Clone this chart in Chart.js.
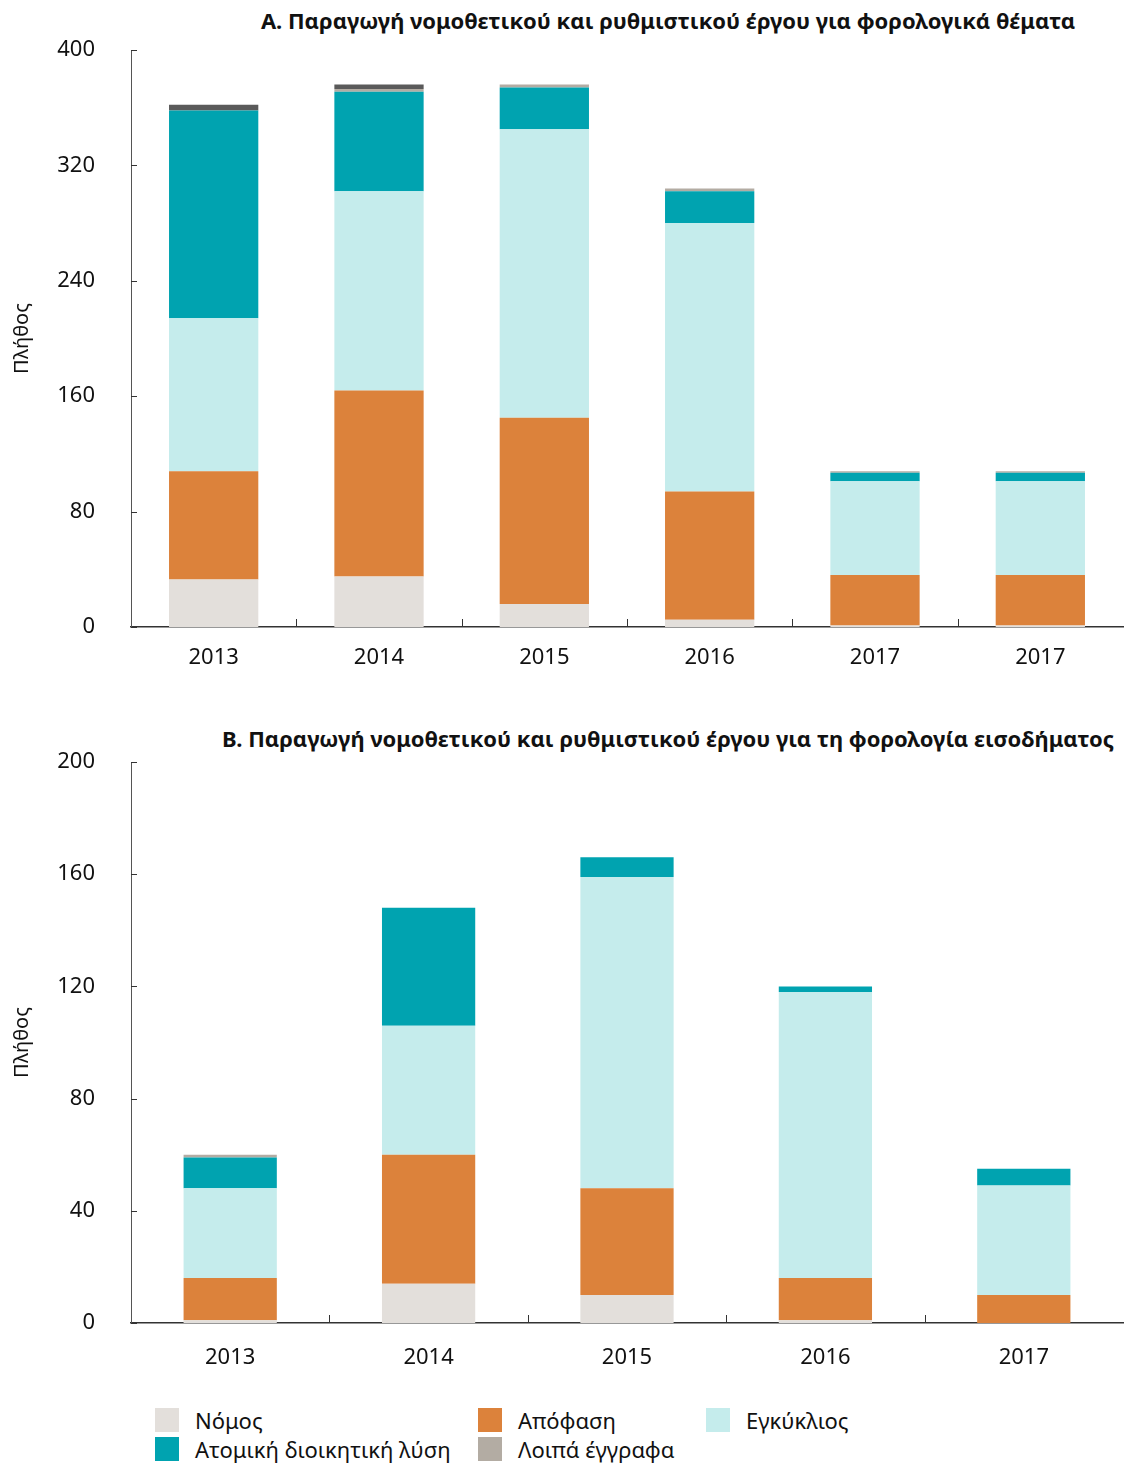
<!DOCTYPE html>
<html>
<head>
<meta charset="utf-8">
<script src="https://cdn.jsdelivr.net/npm/chart.js@4/dist/chart.umd.min.js"></script>
<style>
  body { margin: 0; background: #fff; font-family: "Noto Sans", "DejaVu Sans", sans-serif; }
  #page { position: relative; width: 1124px; height: 1463px; }
  .box { position: absolute; left: 0; width: 1124px; }
  .title { position: absolute; left: 0; width: 1124px; padding-left: 212px; box-sizing: border-box;
           text-align: center; font-weight: bold; font-size: 22px; color: #111; white-space: nowrap; }
  #legend { position: absolute; left: 155px; top: 1408px; display: grid;
            grid-template-columns: 323px 228px 260px; row-gap: 5px; font-size: 22px; color: #111; }
  .item { display: flex; align-items: center; height: 24px; }
  .swatch { width: 24px; height: 24px; margin-right: 16px; flex: none; }
</style>
</head>
<body>
<div id="page">
  <div class="title" style="top: 5px;">Α. Παραγωγή νομοθετικού και ρυθμιστικού έργου για φορολογικά θέματα</div>
  <div class="box" style="top: 0; height: 690px;"><canvas id="chartA"></canvas></div>
  <div class="title" style="top: 723px;">Β. Παραγωγή νομοθετικού και ρυθμιστικού έργου για τη φορολογία εισοδήματος</div>
  <div class="box" style="top: 700px; height: 690px;"><canvas id="chartB"></canvas></div>
  <div id="legend"></div>
</div>
<script>
// series names and colours
const seriesNames = ['Νόμος', 'Απόφαση', 'Εγκύκλιος', 'Ατομική διοικητική λύση', 'Λοιπά έγγραφα', ''];
const seriesColors = ['#e3dfdb', '#dc823b', '#c5ecec', '#00a3b0', '#b3aca3', '#5a5a5a'];

// Chart A
const yearsA = ['2013', '2014', '2015', '2016', '2017', '2017'];
const nomosA = [33, 35, 16, 5, 1, 1];
const apofasiA = [75, 129, 129, 89, 35, 35];
const egkykliosA = [106, 138, 200, 186, 65, 65];
const atomikiA = [144, 69, 29, 22, 6, 6];
const loipaA = [0, 2, 2, 2, 1, 1];
const allaA = [4, 3, 0, 0, 0, 0];
const ticksA = [0, 80, 160, 240, 320, 400];

// Chart B
const yearsB = ['2013', '2014', '2015', '2016', '2017'];
const nomosB = [1, 14, 10, 1, 0];
const apofasiB = [15, 46, 38, 15, 10];
const egkykliosB = [32, 46, 111, 102, 39];
const atomikiB = [11, 42, 7, 2, 6];
const loipaB = [1, 0, 0, 0, 0];
const ticksB = [0, 40, 80, 120, 160, 200];

const FONT = '"Noto Sans", "DejaVu Sans", sans-serif';

// short inward tick marks on both axes
const innerTicks = {
    id: 'innerTicks',
    afterDraw(chart) {
        const ctx = chart.ctx;
        const x = chart.scales.x, y = chart.scales.y;
        const area = chart.chartArea;
        ctx.save();
        ctx.strokeStyle = '#333';
        ctx.lineWidth = 1;
        ctx.beginPath();
        y.ticks.forEach((t, i) => {
            const py = Math.round(y.getPixelForTick(i)) + 0.5;
            ctx.moveTo(area.left, py);
            ctx.lineTo(area.left + 6, py);
        });
        const n = x.ticks.length;
        for (let i = 0; i < n - 1; i++) {
            const px = Math.round((x.getPixelForValue(i) + x.getPixelForValue(i + 1)) / 2) + 0.5;
            ctx.moveTo(px, area.bottom);
            ctx.lineTo(px, area.bottom - 8);
        }
        ctx.stroke();
        ctx.restore();
    }
};

function makeChart(id, labels, series, tickVals, barPct, padTop, xHeight, xPad) {
    const datasets = series.map((d, i) => ({
        label: seriesNames[i],
        data: d,
        backgroundColor: seriesColors[i],
        borderWidth: 0,
        barPercentage: barPct,
        categoryPercentage: 1
    }));
    return new Chart(document.getElementById(id), {
        type: 'bar',
        data: { labels: labels, datasets: datasets },
        plugins: [innerTicks],
        options: {
            responsive: true,
            maintainAspectRatio: false,
            animation: false,
            layout: { padding: { top: padTop, right: 1, left: 0, bottom: 0 } },
            plugins: { legend: { display: false }, tooltip: { enabled: false } },
            scales: {
                x: {
                    stacked: true,
                    grid: { display: false, drawTicks: false },
                    border: { display: true, color: '#333', width: 1.5 },
                    ticks: { color: '#111', font: { family: FONT, size: 22 }, padding: xPad },
                    afterFit(s) { s.height = xHeight; }
                },
                y: {
                    stacked: true,
                    min: 0,
                    max: tickVals[tickVals.length - 1],
                    afterBuildTicks(s) { s.ticks = tickVals.map(v => ({ value: v })); },
                    grid: { display: false, drawTicks: false },
                    border: { display: true, color: '#555', width: 1 },
                    ticks: { color: '#111', font: { family: FONT, size: 22 }, padding: 36 },
                    title: { display: true, text: 'Πλήθος', color: '#111',
                             font: { family: FONT, size: 20 }, padding: { top: 10, bottom: 0 } },
                    afterFit(s) { s.width = 131; }
                }
            }
        }
    });
}

const chartA = makeChart('chartA', yearsA,
    [nomosA, apofasiA, egkykliosA, atomikiA, loipaA, allaA], ticksA, 0.54, 50, 63, 18);
makeChart('chartB', yearsB,
    [nomosB, apofasiB, egkykliosB, atomikiB, loipaB], ticksB, 0.47, 62, 67, 22);

// legend built from the chart's datasets (unlabelled series left out)
const order = [0, 1, 2, 3, 4];
const legend = document.getElementById('legend');
order.forEach(i => {
    const ds = chartA.data.datasets[i];
    const item = document.createElement('div');
    item.className = 'item';
    item.innerHTML = '<span class="swatch" style="background:' + ds.backgroundColor + '"></span>' + ds.label;
    legend.appendChild(item);
});
</script>
</body>
</html>
